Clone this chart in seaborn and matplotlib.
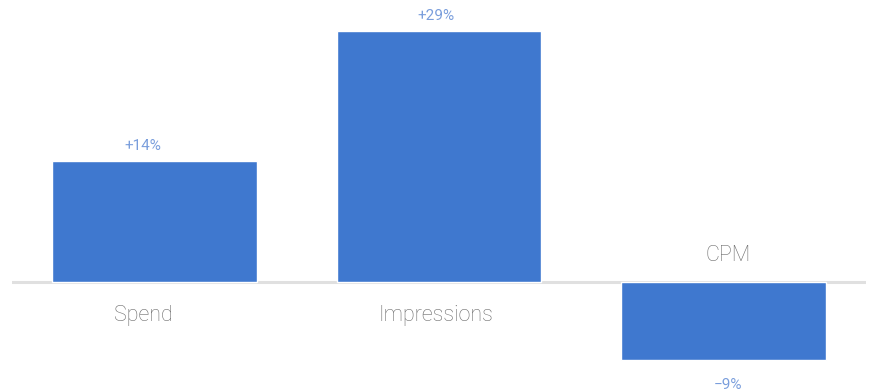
import matplotlib
matplotlib.use("Agg")
import matplotlib.pyplot as plt
import matplotlib.transforms as mtransforms
import seaborn as sns
import pandas as pd

# 데이터
categories = ["Spend", "Impressions", "CPM"]
changes = [14, 29, -9]
value_labels = ["+14%", "+29%", "\u22129%"]

bar_color = "#3f78cf"
label_color = "#7a9edc"
cat_color = "#6b6b6b"

sns.set_theme(style="white")
plt.rcParams["font.family"] = ["Roboto", "DejaVu Sans"]

df = pd.DataFrame({"metric": categories, "change": changes})

fig = plt.figure(figsize=(8.77, 3.92), dpi=100)
ax = fig.add_axes([12 / 877, 0, 854 / 877, 1])
sns.barplot(data=df, x="metric", y="change", color=bar_color,
            saturation=1, width=0.72, ax=ax)

ax.set_xlim(-0.5, 2.5)
ax.set_ylim(-110 / 8.65, 282 / 8.65)
ax.axhline(0, color="#e0e0e0", linewidth=2.2, zorder=0)
ax.axis("off")

# 라벨은 그림 폭을 3등분한 칸의 가운데에 둔다
trans = mtransforms.blended_transform_factory(fig.transFigure, ax.transData)
shift = mtransforms.ScaledTranslation(-3 / 100, 0, fig.dpi_scale_trans)
n = len(categories)

for i, (v, lab, cat) in enumerate(zip(changes, value_labels, categories)):
    xf = (i + 0.5) / n
    if v >= 0:
        val_off, cat_off = 8, -28
    else:
        val_off, cat_off = -21, 15
    ax.annotate(lab, (xf, v), xycoords=trans + shift, xytext=(0, val_off),
                textcoords="offset points", ha="center", va="baseline",
                fontsize=11, color=label_color)
    ax.annotate(cat, (xf, 0), xycoords=trans + shift, xytext=(0, cat_off),
                textcoords="offset points", ha="center", va="baseline",
                fontsize=15.5, color=cat_color, fontweight="light")

fig.savefig("out.png", dpi=100)
